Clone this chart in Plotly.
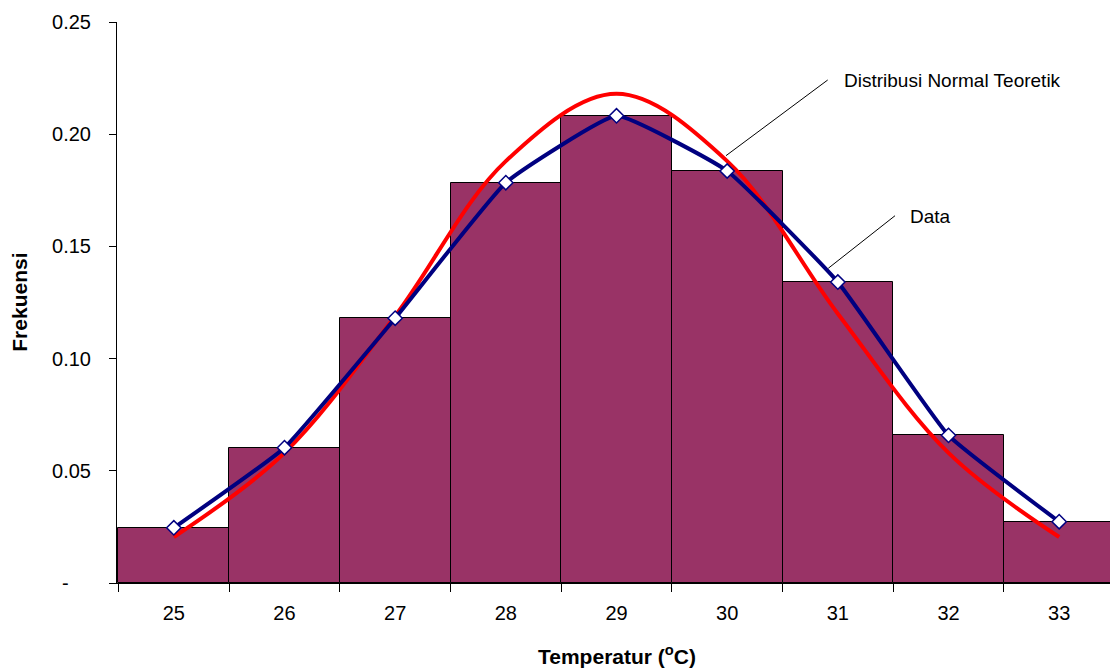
import plotly.graph_objects as go

categories = ["25", "26", "27", "28", "29", "30", "31", "32", "33"]
freq_bars = [0.0246, 0.0603, 0.118, 0.1784, 0.2082, 0.1836, 0.1341, 0.0658, 0.0273]
data_line = [0.0246, 0.0603, 0.118, 0.1784, 0.2082, 0.1836, 0.1341, 0.0658, 0.0273]
normal_line = [0.0205, 0.058, 0.119, 0.188, 0.218, 0.188, 0.120, 0.058, 0.0205]
y_tickvals = [0, 0.05, 0.10, 0.15, 0.20, 0.25]
y_ticktext = ["-\u00a0\u00a0\u00a0\u00a0", "0.05", "0.10", "0.15", "0.20", "0.25"]

FONT = "Liberation Sans, Arial, sans-serif"

fig = go.Figure()
fig.add_trace(go.Bar(
    x=categories, y=freq_bars,
    marker=dict(color="#993366", line=dict(color="black", width=1)),
    showlegend=False, hoverinfo="skip",
))
fig.add_trace(go.Scatter(
    x=categories, y=normal_line, mode="lines",
    line=dict(color="#ff0000", width=4, shape="spline", smoothing=1.0),
    showlegend=False,
))
fig.add_trace(go.Scatter(
    x=categories, y=data_line, mode="lines+markers",
    line=dict(color="#000080", width=4, shape="spline", smoothing=0.35),
    marker=dict(symbol="diamond", size=11, color="white",
                line=dict(color="#000080", width=1.5)),
    showlegend=False,
))

# the chart's last bar runs past the right edge of the window, as in the reference
fig.update_layout(
    width=1116, height=670,
    margin=dict(l=117, r=0, t=22, b=87),
    paper_bgcolor="white", plot_bgcolor="white",
    bargap=0,
    font=dict(family=FONT, size=20, color="black"),
    xaxis=dict(
        type="category", tickson="boundaries", ticks="outside", ticklen=8,
        tickcolor="black", showline=True, linecolor="black", linewidth=1,
        showgrid=False, tickfont=dict(size=20), automargin=False,
        ticklabelstandoff=12,
    ),
    yaxis=dict(
        range=[0, 0.25], tickvals=y_tickvals, ticktext=y_ticktext,
        ticks="outside", ticklen=7, tickcolor="black",
        showline=True, linecolor="black", linewidth=1,
        showgrid=False, zeroline=False, tickfont=dict(size=20),
        ticklabelstandoff=14, automargin=False,
    ),
    annotations=[
        dict(text="<b>Frekuensi</b>", xref="paper", yref="paper",
             x=-0.0971, y=0.5014, xanchor="center", yanchor="middle",
             textangle=-90, showarrow=False, font=dict(size=21)),
        dict(text="<b>Temperatur (<sup>o</sup>C)</b>", xref="paper", yref="paper",
             x=0.5005, y=-0.128, xanchor="center", yanchor="middle",
             showarrow=False, font=dict(size=21)),
        dict(text="Distribusi Normal Teoretik", xref="paper", yref="paper",
             x=0.7257, y=0.8954, xanchor="left", yanchor="middle",
             showarrow=False, font=dict(size=19)),
        dict(text="Data", xref="paper", yref="paper",
             x=0.7918, y=0.653, xanchor="left", yanchor="middle",
             showarrow=False, font=dict(size=19)),
    ],
    shapes=[
        dict(type="line", xref="paper", yref="paper",
             x0=0.7114, y0=0.8966, x1=0.6096, y1=0.7617,
             line=dict(color="black", width=1)),
        dict(type="line", xref="paper", yref="paper",
             x0=0.7788, y0=0.6547, x1=0.7120, y1=0.561,
             line=dict(color="black", width=1)),
    ],
)

fig.write_html(
    "out.html",
    config={"displayModeBar": False},
    post_script="document.body.style.margin='0';document.body.style.overflow='hidden';",
)
